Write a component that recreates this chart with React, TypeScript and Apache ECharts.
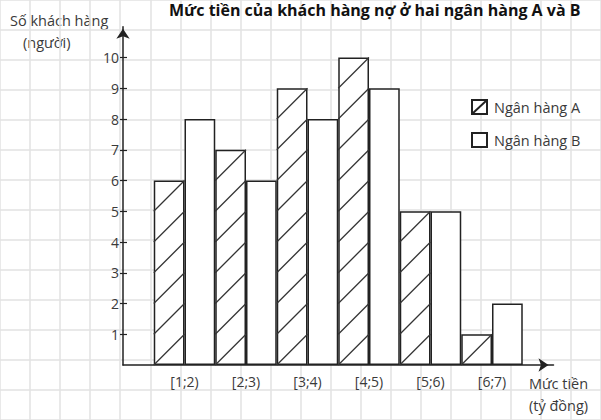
import React, { useEffect, useRef } from 'react';
import * as echarts from 'echarts';

const categories = ['[1;2)', '[2;3)', '[3;4)', '[4;5)', '[5;6)', '[6;7)'];
const bankA = [6, 7, 9, 10, 5, 1];
const bankB = [8, 6, 8, 9, 5, 2];
const seriesNames = ['Ngân hàng A', 'Ngân hàng B'];

// one square of the graph paper, in px
const U = 30.75;
const ORIGIN_X = 123;
const ORIGIN_Y = 365;
const FONT = '"Open Sans", "Noto Sans", sans-serif';
const INK = '#222';
const TEXT = '#3a3a3a';

// bars sit side by side: A then B, two squares per class
const posA = (i: number) => 2 * i + 1.5;
const posB = (i: number) => 2 * i + 2.5;

const hidden = { show: false };

const nameStyle = {
  verticalAlign: 'middle',
  fontFamily: FONT,
  fontSize: 14.5,
  fill: TEXT,
};

const App: React.FC = () => {
  const chartRef = useRef<HTMLDivElement>(null);

  useEffect(() => {
    const chart = echarts.init(chartRef.current!, undefined, { renderer: 'svg' });

    const mainGrid = {
      left: ORIGIN_X,
      top: ORIGIN_Y - 11 * U,
      width: 14 * U,
      height: 11 * U,
    };
    // grid used only for tick marks and labels 1..10
    const tickGrid = {
      left: ORIGIN_X,
      top: ORIGIN_Y - 10 * U,
      width: 14 * U,
      height: 9 * U,
    };

    const options: any = {
      animation: false,
      backgroundColor: '#fff',
      title: {
        text: 'Mức tiền của khách hàng nợ ở hai ngân hàng A và B',
        left: 169,
        top: 2,
        padding: 0,
        textStyle: { fontFamily: FONT, fontSize: 16, fontWeight: 'bold', color: '#111' },
      },
      graphic: [
        { type: 'text', silent: true, style: { ...nameStyle, text: 'Số khách hàng', x: 10, y: 20 } },
        { type: 'text', silent: true, style: { ...nameStyle, text: '(người)', x: 23, y: 42 } },
      ],
      legend: {
        orient: 'vertical',
        left: 466,
        top: 94,
        itemWidth: 15,
        itemHeight: 14,
        itemGap: 17,
        selectedMode: false,
        textStyle: { fontFamily: FONT, fontSize: 14.5, color: TEXT, padding: [0, 0, 0, 2] },
        data: [
          { name: seriesNames[0], icon: 'path://M0,0H15V14H0Z M0,14L15,0' },
          { name: seriesNames[1], icon: 'rect' },
        ],
      },
      grid: [
        // graph paper background covering the whole picture
        { left: ORIGIN_X - 4 * U, top: ORIGIN_Y - 12 * U, width: 20 * U, height: 14 * U },
        mainGrid,
        tickGrid,
        tickGrid,
      ],
      xAxis: [
        {
          gridIndex: 0, type: 'value', min: -4, max: 16, interval: 1,
          axisLine: hidden, axisTick: hidden, axisLabel: hidden,
          splitLine: { show: true, lineStyle: { color: '#e2e2e2', width: 1.5 } },
        },
        {
          gridIndex: 1, type: 'value', min: 0, max: 14, interval: 1,
          axisLine: {
            show: true, onZero: false,
            symbol: ['none', 'arrow'], symbolSize: [10, 10], symbolOffset: [0, -5],
            lineStyle: { color: INK, width: 1.5 },
          },
          axisTick: hidden,
          splitLine: hidden,
          axisLabel: {
            margin: 9,
            fontFamily: FONT, fontSize: 14, color: TEXT,
            formatter: (v: number) => {
              const i = v / 2 - 1;
              return Number.isInteger(i) && i >= 0 && i < categories.length ? categories[i] : '';
            },
          },
          name: 'Mức tiền\n(tỷ đồng)',
          nameLocation: 'end',
          nameGap: 5,
          nameTextStyle: {
            align: 'center', verticalAlign: 'top', padding: [7, 0, 0, 0], lineHeight: 22,
            fontFamily: FONT, fontSize: 14.5, color: TEXT,
          },
        },
        { gridIndex: 2, type: 'value', min: 0, max: 14, show: false },
        { gridIndex: 3, type: 'value', min: 0, max: 14, show: false },
      ],
      yAxis: [
        {
          gridIndex: 0, type: 'value', min: -2, max: 12, interval: 1,
          axisLine: hidden, axisTick: hidden, axisLabel: hidden,
          splitLine: { show: true, lineStyle: { color: '#e2e2e2', width: 1.5 } },
        },
        {
          gridIndex: 1, type: 'value', min: 0, max: 11, interval: 1,
          axisLine: {
            show: true, onZero: false,
            symbol: ['none', 'arrow'], symbolSize: [10, 10], symbolOffset: [0, -2],
            lineStyle: { color: INK, width: 1.5 },
          },
          axisTick: hidden, axisLabel: hidden, splitLine: hidden,
        },
        {
          gridIndex: 2, type: 'value', min: 1, max: 10, interval: 1,
          axisLine: hidden, splitLine: hidden,
          axisTick: { show: true, length: 3, lineStyle: { color: INK, width: 1.2 } },
          axisLabel: { margin: 4, fontFamily: FONT, fontSize: 14, color: TEXT },
        },
        {
          gridIndex: 3, type: 'value', min: 1, max: 10, interval: 1,
          axisLine: hidden, splitLine: hidden, axisLabel: hidden,
          axisTick: { show: true, inside: true, length: 4, lineStyle: { color: INK, width: 1.2 } },
        },
      ],
      series: [
        {
          name: seriesNames[0],
          type: 'bar',
          xAxisIndex: 1,
          yAxisIndex: 1,
          barWidth: U,
          barGap: '-100%',
          itemStyle: { color: '#fff', borderColor: INK, borderWidth: 1.5 },
          data: bankA.map((v, i) => [posA(i), v]),
        },
        {
          name: seriesNames[1],
          type: 'bar',
          xAxisIndex: 1,
          yAxisIndex: 1,
          barWidth: U,
          barGap: '-100%',
          itemStyle: { color: '#fff', borderColor: INK, borderWidth: 1.5 },
          data: bankB.map((v, i) => [posB(i), v]),
        },
        {
          // diagonal hatching of bank A: one stroke per square
          type: 'custom',
          xAxisIndex: 1,
          yAxisIndex: 1,
          silent: true,
          z: 3,
          data: bankA.map((v, i) => [posA(i), v]),
          renderItem: (_params: any, api: any) => {
            const x = api.value(0);
            const v = api.value(1);
            const children: any[] = [];
            for (let k = 0; k < v; k++) {
              const p1 = api.coord([x - 0.5, k]);
              const p2 = api.coord([x + 0.5, k + 1]);
              children.push({
                type: 'line',
                shape: { x1: p1[0], y1: p1[1], x2: p2[0], y2: p2[1] },
                style: { stroke: '#333', lineWidth: 1.3 },
              });
            }
            return { type: 'group', children };
          },
        },
      ],
    };

    chart.setOption(options);

    return () => {
      chart.dispose();
    };
  }, []);

  return (
    <div
      ref={chartRef}
      style={{ position: 'fixed', left: 0, top: 0, width: '601px', height: '420px' }}
    />
  );
};

export default App;
